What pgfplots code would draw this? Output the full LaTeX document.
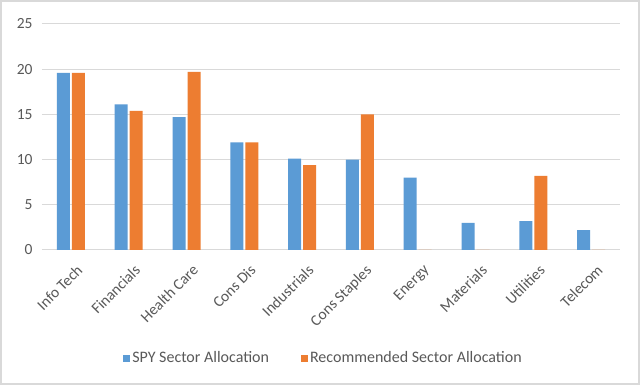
\documentclass[border=0pt]{standalone}
\usepackage{pgfplots}
\pgfplotsset{compat=1.18}
\usepackage{fontspec}
\setmainfont{Carlito}
\definecolor{cblue}{HTML}{5B9BD5}
\definecolor{corange}{HTML}{ED7D31}
\definecolor{ctext}{HTML}{595959}
\definecolor{cgrid}{HTML}{D9D9D9}
\pgfplotstableread{
x spy rec
0 19.6 19.6
1 16.1 15.4
2 14.7 19.7
3 11.9 11.9
4 10.1 9.4
5 10.0 15.0
6 8.0 0
7 3.0 0
8 3.2 8.2
9 2.2 0
}\datatable
\begin{document}
\begin{tikzpicture}[x=1pt,y=1pt]
\useasboundingbox (0,0) rectangle (640,385);
\fill[white] (0,0) rectangle (640,385);
\begin{axis}[
  at={(42pt,135pt)}, anchor=south west,
  scale only axis, width=578pt, height=226pt,
  xmin=-0.5, xmax=9.5, ymin=0, ymax=25,
  ytick={0,5,...,25},
  xtick=data,
  xticklabels={Info Tech,Financials,Health Care,Cons Dis,Industrials,Cons Staples,Energy,Materials,Utilities,Telecom},
  xticklabel style={rotate=45, anchor=north east, inner sep=1pt, xshift=-2pt, yshift=-9pt},
  ymajorgrids, grid style={cgrid, line width=1pt},
  axis line style={draw=none},
  axis x line*=bottom, axis y line*=left,
  x axis line style={cgrid, line width=1pt},
  tick style={draw=none},
  /pgf/number format/assume math mode=true,
  ticklabel style={font=\fontsize{15.5}{18}\selectfont, text=ctext},
  yticklabel style={xshift=-6pt},
  ybar, bar width=13pt,
  legend style={at={(0.487,-0.478)}, anchor=center, draw=none, fill=none, legend columns=2,
    font=\fontsize{16}{19}\selectfont, text=ctext, /tikz/every even column/.append style={column sep=30pt}},
  legend image code/.code={\fill[#1] (0pt,-3.5pt) rectangle (7pt,3.5pt);},
]
\addplot[fill=cblue, draw=none, bar shift=-7.5pt] table[x=x,y=spy]{\datatable};
\addplot[fill=corange, draw=none, bar shift=7.5pt] table[x=x,y=rec]{\datatable};
\legend{SPY Sector Allocation, Recommended Sector Allocation}
\end{axis}
\draw[cgrid, line width=2pt] (1,1) rectangle (639,384);
\end{tikzpicture}
\end{document}
